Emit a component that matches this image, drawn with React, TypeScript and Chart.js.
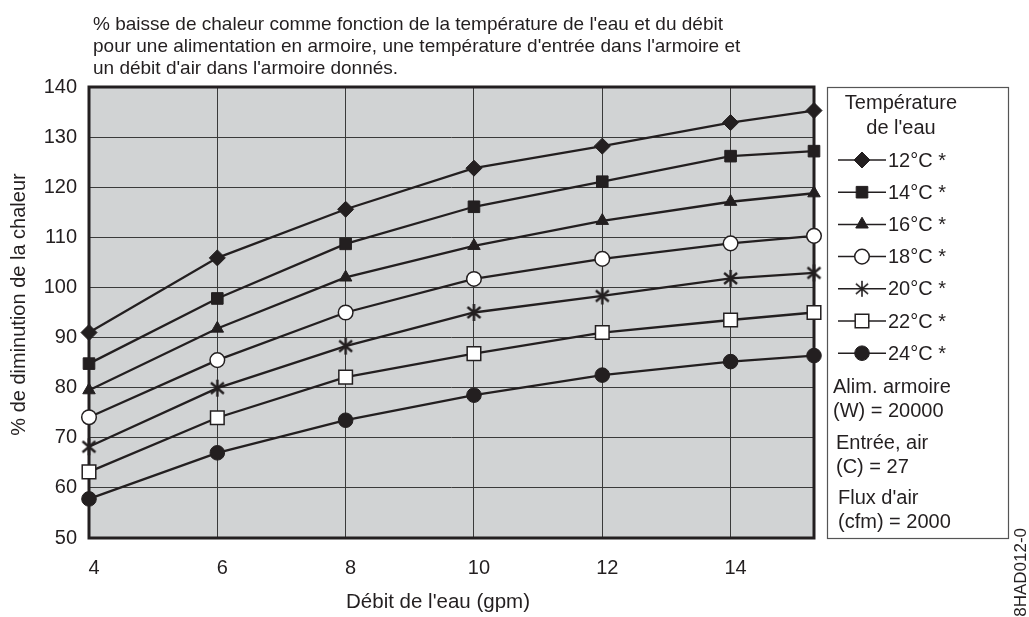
import React, { useEffect, useRef } from 'react';
import { Chart, registerables } from 'chart.js';
import { drawPoint } from 'chart.js/helpers';

Chart.register(...registerables);

// ---- data ----
const flowRates = [4, 6, 8, 10, 12, 14, 15.3];
const seriesLabels = ['12°C *', '14°C *', '16°C *', '18°C *', '20°C *', '22°C *', '24°C *'];
const t12 = [91.0, 105.9, 115.6, 123.8, 128.2, 132.9, 135.3];
const t14 = [84.8, 97.8, 108.7, 116.1, 121.1, 126.2, 127.2];
const t16 = [79.5, 91.8, 102.0, 108.3, 113.3, 117.1, 118.8];
const t18 = [74.1, 85.5, 95.0, 101.7, 105.7, 108.8, 110.3];
const t20 = [68.2, 79.9, 88.3, 95.0, 98.3, 101.8, 102.9];
const t22 = [63.2, 74.0, 82.1, 86.8, 91.0, 93.5, 95.0];
const t24 = [57.8, 67.0, 73.5, 78.5, 82.5, 85.2, 86.4];
const seriesValues = [t12, t14, t16, t18, t20, t22, t24];

const titleLines = [
  "% baisse de chaleur comme fonction de la température de l'eau et du débit",
  "pour une alimentation en armoire, une température d'entrée dans l'armoire et",
  "un débit d'air dans l'armoire donnés.",
];
const legendTitle = ['Température', "de l'eau"];
const legendNotes = [
  ['Alim. armoire', '(W) = 20000'],
  ['Entrée, air', '(C) = 27'],
  ["Flux d'air", '(cfm) = 2000'],
];
const xTitle = "Débit de l'eau (gpm)";
const yTitle = '% de diminution de la chaleur';
const figureId = '38HAD012-0';

const INK = '#231f20';
const FONT = '"Liberation Sans", Arial, sans-serif';

function makeAsterisk(size: number, lw: number) {
  const c = document.createElement('canvas');
  c.width = size;
  c.height = size;
  const ctx = c.getContext('2d')!;
  ctx.strokeStyle = INK;
  ctx.lineWidth = lw;
  const cx = size / 2;
  const r = size / 2 - 1;
  ctx.beginPath();
  ctx.moveTo(cx, cx - r);
  ctx.lineTo(cx, cx + r);
  const d = r * 0.76;
  ctx.moveTo(cx - d, cx - d * 0.85);
  ctx.lineTo(cx + d, cx + d * 0.85);
  ctx.moveTo(cx + d, cx - d * 0.85);
  ctx.lineTo(cx - d, cx + d * 0.85);
  ctx.stroke();
  return c;
}

export default function App() {
  const ref = useRef<HTMLCanvasElement>(null);

  useEffect(() => {
    const asterisk = makeAsterisk(19, 2.4);
    const legendAsterisk = makeAsterisk(18, 1.6);
    const markerStyles: any[] = [
      { pointStyle: 'rectRot', radius: 8, bg: INK, bw: 1 },
      { pointStyle: 'rect', radius: 8.2, bg: INK, bw: 1 },
      { pointStyle: 'triangle', radius: 7.2, bg: INK, bw: 1 },
      { pointStyle: 'circle', radius: 7.3, bg: '#ffffff', bw: 1.5 },
      { pointStyle: asterisk, radius: 8, bg: INK, bw: 1 },
      { pointStyle: 'rect', radius: 9.6, bg: '#ffffff', bw: 1.5 },
      { pointStyle: 'circle', radius: 7.3, bg: INK, bw: 1 },
    ];

    const datasets = seriesValues.map((vals, i) => ({
      label: seriesLabels[i],
      data: vals.map((v, j) => ({ x: flowRates[j], y: v })),
      borderColor: INK,
      borderWidth: 2.3,
      backgroundColor: markerStyles[i].bg,
      pointStyle: markerStyles[i].pointStyle,
      pointRadius: markerStyles[i].radius,
      pointBorderColor: INK,
      pointBorderWidth: markerStyles[i].bw,
      pointBackgroundColor: markerStyles[i].bg,
      clip: false as any,
      tension: 0,
    }));

    const decor = {
      id: 'decor',
      beforeDraw(chart: any) {
        const { ctx, chartArea: a } = chart;
        ctx.save();
        ctx.fillStyle = '#ffffff';
        ctx.fillRect(0, 0, chart.width, chart.height);
        ctx.fillStyle = '#d1d3d4';
        ctx.fillRect(a.left, a.top, a.right - a.left, a.bottom - a.top);
        ctx.restore();
      },
      beforeDatasetsDraw(chart: any) {
        const { ctx, chartArea: a } = chart;
        ctx.save();
        ctx.strokeStyle = INK;
        ctx.lineWidth = 3;
        ctx.strokeRect(a.left, a.top, a.right - a.left, a.bottom - a.top);
        ctx.restore();
      },
      afterDraw(chart: any) {
        const { ctx, chartArea: a } = chart;
        ctx.save();
        ctx.fillStyle = INK;
        // Title
        ctx.font = `19px ${FONT}`;
        ctx.textAlign = 'left';
        ctx.textBaseline = 'alphabetic';
        titleLines.forEach((t, i) => ctx.fillText(t, 93, 30 + i * 21.8));
        // Axis titles
        ctx.font = `20.5px ${FONT}`;
        ctx.textAlign = 'center';
        ctx.textBaseline = 'middle';
        ctx.fillText(xTitle, 438, 602);
        ctx.save();
        ctx.font = `20px ${FONT}`;
        ctx.translate(19, (a.top + a.bottom) / 2 - 8);
        ctx.rotate(-Math.PI / 2);
        ctx.fillText(yTitle, 0, 0);
        ctx.restore();
        // Legend box
        ctx.strokeStyle = '#555555';
        ctx.lineWidth = 1.2;
        ctx.strokeRect(827.5, 87.5, 181, 451);
        ctx.fillStyle = INK;
        ctx.font = `20px ${FONT}`;
        ctx.textAlign = 'center';
        ctx.fillText(legendTitle[0], 901, 103);
        ctx.fillText(legendTitle[1], 901, 128);
        seriesLabels.forEach((lab, i) => {
          const y = 160 + i * 32.2;
          ctx.strokeStyle = INK;
          ctx.lineWidth = 1.5;
          ctx.beginPath();
          ctx.moveTo(838, y);
          ctx.lineTo(886, y);
          ctx.stroke();
          const m = markerStyles[i];
          ctx.fillStyle = m.bg;
          ctx.strokeStyle = INK;
          ctx.lineWidth = m.bw;
          const ps = i === 4 ? legendAsterisk : m.pointStyle;
          drawPoint(ctx, { pointStyle: ps, radius: m.radius, rotation: 0, borderWidth: m.bw } as any, 862, y);
          ctx.fillStyle = INK;
          ctx.textAlign = 'left';
          ctx.textBaseline = 'middle';
          ctx.fillText(lab, 888, y + 1);
        });
        const noteY = [387, 443, 498];
        const noteX = [833, 836, 838];
        legendNotes.forEach((pair, i) => {
          ctx.fillText(pair[0], noteX[i], noteY[i]);
          ctx.fillText(pair[1], noteX[i], noteY[i] + 24);
        });
        // Figure id
        ctx.save();
        ctx.font = `17px ${FONT}`;
        ctx.translate(1021, 528);
        ctx.rotate(-Math.PI / 2);
        ctx.textAlign = 'right';
        ctx.textBaseline = 'middle';
        ctx.fillText(figureId, 0, 0);
        ctx.restore();
        ctx.restore();
      },
    };

    const chart = new Chart(ref.current!, {
      type: 'line',
      data: { datasets },
      options: {
        animation: false,
        responsive: false,
        events: [],
        layout: { padding: { left: 0, top: 87, right: 215, bottom: 0 } },
        plugins: { legend: { display: false }, tooltip: { enabled: false }, title: { display: false } },
        scales: {
          x: {
            type: 'linear',
            min: 4,
            max: 15.3,
            afterFit: (axis: any) => { axis.height = 79; },
            grid: { color: '#3a3a3a', lineWidth: 1, drawTicks: false },
            border: { display: false },
            ticks: {
              stepSize: 2,
              includeBounds: false,
              padding: 18,
              labelOffset: 5,
              color: INK,
              font: { size: 20, family: FONT },
            },
          },
          y: {
            type: 'linear',
            min: 50,
            max: 140,
            afterFit: (axis: any) => { axis.width = 89; },
            grid: { color: '#3a3a3a', lineWidth: 1, drawTicks: false },
            border: { display: false },
            ticks: {
              stepSize: 10,
              padding: 12,
              color: INK,
              font: { size: 20, family: FONT },
            },
          },
        },
      },
      plugins: [decor],
    });
    return () => chart.destroy();
  }, []);

  return (
    <div style={{ position: 'absolute', left: 0, top: 0, width: 1029, height: 617 }}>
      <canvas ref={ref} width={1029} height={617} style={{ display: 'block' }} />
    </div>
  );
}
